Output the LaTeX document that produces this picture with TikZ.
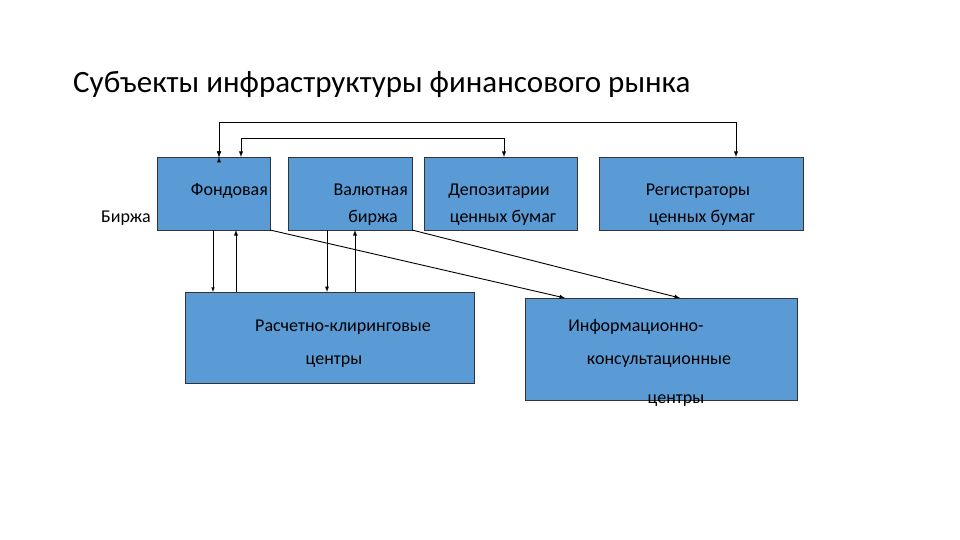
\documentclass[tikz,border=0pt]{standalone}
\usepackage{fontspec}
\setmainfont{Carlito}
\begin{document}
\begin{tikzpicture}[x=1pt,y=-1pt,
  bx/.style={draw=black!80,fill=blue!55!cyan!60!white!85!black,line width=0.8pt},
  ar/.style={-latex,line width=0.9pt},
  tx/.style={font=\fontsize{18}{20}\selectfont,inner sep=0pt,anchor=base}]
\definecolor{bfill}{HTML}{5B9BD5}
\tikzset{bx/.style={draw=black!80,fill=bfill,line width=0.8pt}}
\useasboundingbox (0,0) rectangle (960,540);
\node[anchor=base west,inner sep=0pt,font=\fontsize{31}{34}\selectfont] (t) at (73,93) {Субъекты инфраструктуры финансового рынка};
\draw[bx] (157,157) rectangle (270,230) coordinate (b1);
\draw[bx] (288,157) rectangle (412,230) coordinate (b2);
\draw[bx] (424,157) rectangle (577,230) coordinate (b3);
\draw[bx] (599,157) rectangle (803,230) coordinate (b4);
\draw[bx] (185,292) rectangle (474,383) coordinate (b5);
\draw[bx] (525,298) rectangle (797,400) coordinate (b6);
\node[tx,anchor=base east] (n1) at (268,196) {Фондовая};
\node[tx,anchor=base west] (n1b) at (101,222) {Биржа};
\node[tx,anchor=base east] (n2) at (408,196) {Валютная};
\node[tx,anchor=base east] (n2b) at (398,222) {биржа};
\node[tx] (n3) at (499,196) {Депозитарии};
\node[tx] (n3b) at (503,222) {ценных бумаг};
\node[tx] (n4) at (698,196) {Регистраторы};
\node[tx] (n4b) at (702,222) {ценных бумаг};
\node[tx] (n5) at (343,331) {Расчетно-клиринговые};
\node[tx] (n5b) at (334,364) {центры};
\node[tx] (n6) at (636,331) {Информационно-};
\node[tx] (n6b) at (659,364) {консультационные};
\node[tx] (n6c) at (676,403) {центры};
\coordinate (a1) at (219,122); \coordinate (a2) at (736,122);
\draw[ar] (219,157) ++(0,0) coordinate (e1);
\draw[line width=0.9pt] (219,140) -- (a1) -- (a2);
\draw[ar] (219,130) -- (219,157);
\draw[ar] (a2) -- (736,157);
\draw[ar] (219,122) -- (219,157);
\draw[line width=0.9pt] (241,150) -- (241,138) -- (504,138);
\draw[ar] (241,138) -- (241,157);
\draw[ar] (504,138) -- (504,157);
\draw[-latex,line width=0.6pt] (213,230) -- (213,292);
\draw[ar] (236,292) -- (236,230);
\draw[ar] (327,230) -- (327,292);
\draw[ar] (355,292) -- (355,230);
\draw[ar] (270,230) -- (565,298);
\draw[ar] (412,230) -- (680,298);
\end{tikzpicture}
\end{document}
